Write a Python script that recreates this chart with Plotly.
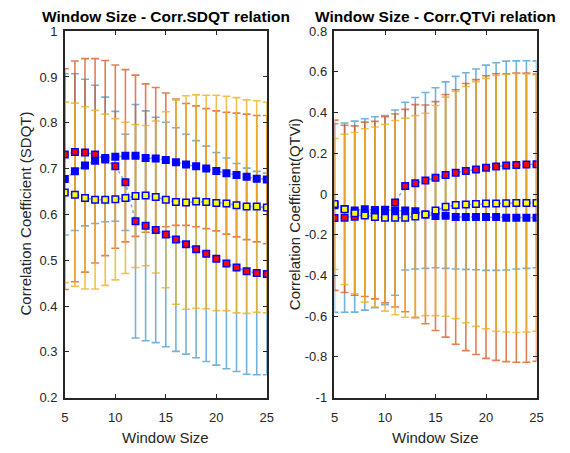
import plotly.graph_objects as go

window = list(range(5, 26))

# ---- Left panel: SDQT ----
sdqt_blue_mean = [0.677, 0.694, 0.707, 0.717, 0.723, 0.726, 0.728, 0.728, 0.723, 0.722, 0.719,
                  0.714, 0.709, 0.705, 0.700, 0.695, 0.690, 0.686, 0.682, 0.678, 0.676]
sdqt_red_mean = [0.731, 0.736, 0.735, 0.731, 0.720, 0.705, 0.670, 0.585, 0.575, 0.566, 0.556,
                 0.545, 0.535, 0.524, 0.514, 0.503, 0.493, 0.484, 0.476, 0.472, 0.470]
sdqt_yellow_mean = [0.648, 0.643, 0.636, 0.632, 0.632, 0.633, 0.636, 0.640, 0.641, 0.638, 0.632,
                    0.627, 0.626, 0.628, 0.627, 0.625, 0.624, 0.620, 0.617, 0.617, 0.615]
# half-widths of error bars
sdqt_red_err = [0.176, 0.171, 0.160, 0.151, 0.136, 0.120, 0.105, 0.255, 0.251, 0.246, 0.245,
                0.244, 0.240, 0.237, 0.235, 0.232, 0.230, 0.227, 0.225, 0.222, 0.220]
sdqt_blue_err = [0.241, 0.241, 0.233, 0.223, 0.213, 0.200, 0.188, 0.176, 0.162, 0.155, 0.146,
                 0.138, 0.133, 0.132, 0.131, 0.131, 0.133, 0.135, 0.137, 0.138, 0.140]
sdqt_yellow_err = [0.197, 0.200, 0.199, 0.195, 0.187, 0.176, 0.165, 0.156, 0.153, 0.166, 0.192,
                   0.223, 0.233, 0.233, 0.233, 0.235, 0.234, 0.235, 0.233, 0.231, 0.230]

# ---- Right panel: QTVi ----
qtvi_blue_mean = [-0.055, -0.073, -0.081, -0.075, -0.079, -0.077, -0.081, -0.081, -0.084, -0.100, -0.108,
                  -0.107, -0.113, -0.113, -0.113, -0.113, -0.113, -0.116, -0.116, -0.116, -0.116]
qtvi_red_mean = [-0.118, -0.116, -0.111, -0.100, -0.089, -0.079, -0.042, 0.039, 0.053, 0.067, 0.080,
                 0.093, 0.105, 0.113, 0.121, 0.129, 0.135, 0.140, 0.143, 0.145, 0.146]
qtvi_yellow_mean = [-0.049, -0.075, -0.094, -0.105, -0.113, -0.116, -0.116, -0.116, -0.110, -0.100, -0.081,
                    -0.062, -0.054, -0.052, -0.049, -0.047, -0.046, -0.045, -0.044, -0.044, -0.044]
qtvi_red_err = [0.463, 0.465, 0.469, 0.470, 0.469, 0.464, 0.455, 0.412, 0.421, 0.432, 0.442,
                0.458, 0.473, 0.483, 0.493, 0.504, 0.510, 0.513, 0.511, 0.510, 0.508]
qtvi_blue_err = [0.418, 0.411, 0.416, 0.428, 0.436, 0.457, 0.474, 0.497, 0.523, 0.537, 0.562,
                 0.596, 0.625, 0.656, 0.675, 0.694, 0.704, 0.707, 0.710, 0.710, 0.705]
qtvi_yellow_err = [0.322, 0.369, 0.396, 0.426, 0.442, 0.459, 0.477, 0.489, 0.495, 0.497, 0.516,
                   0.538, 0.558, 0.580, 0.601, 0.615, 0.628, 0.633, 0.636, 0.634, 0.630]

x_ticks = [5, 10, 15, 20, 25]
left_yticks = [0.2, 0.3, 0.4, 0.5, 0.6, 0.7, 0.8, 0.9, 1.0]
left_ytext = ["0.2", "0.3", "0.4", "0.5", "0.6", "0.7", "0.8", "0.9", "1"]
right_yticks = [-1, -0.8, -0.6, -0.4, -0.2, 0, 0.2, 0.4, 0.6, 0.8]
right_ytext = ["-1", "-0.8", "-0.6", "-0.4", "-0.2", "0", "0.2", "0.4", "0.6", "0.8"]

C_BLUE_ERR = "rgba(0,114,189,0.55)"
C_RED_ERR = "rgba(217,83,25,0.75)"
C_YEL_ERR = "rgba(237,177,32,0.8)"
EDGE = "#0000FF"
LINK = "rgba(90,150,230,0.8)"

fig = go.Figure()

def add_panel(xa, ya, blue_m, red_m, yel_m, red_e, blue_e, yel_e):
    # error bars: light blue around red markers, orange-red around blue markers, yellow around yellow markers
    for m, e, c in [(red_m, red_e, C_BLUE_ERR), (blue_m, blue_e, C_RED_ERR), (yel_m, yel_e, C_YEL_ERR)]:
        fig.add_trace(go.Scatter(
            x=window, y=m, mode="markers", xaxis=xa, yaxis=ya, showlegend=False,
            marker=dict(size=1, color="rgba(0,0,0,0)"),
            error_y=dict(type="data", array=e, visible=True, color=c, thickness=1.6, width=4),
            hoverinfo="skip"))
    for m, fc in [(red_m, "#FF0000"), (blue_m, "#0000FF"), (yel_m, "#FFFF00")]:
        fig.add_trace(go.Scatter(
            x=window, y=m, mode="lines+markers", xaxis=xa, yaxis=ya, showlegend=False,
            line=dict(color=LINK, width=1.5, dash="dot"),
            marker=dict(symbol="square", size=6.5, color=fc, line=dict(color=EDGE, width=1.5))))

add_panel("x", "y", sdqt_blue_mean, sdqt_red_mean, sdqt_yellow_mean,
          sdqt_red_err, sdqt_blue_err, sdqt_yellow_err)
add_panel("x2", "y2", qtvi_blue_mean, qtvi_red_mean, qtvi_yellow_mean,
          qtvi_red_err, qtvi_blue_err, qtvi_yellow_err)

W, H = 570, 453
ytop = 1 - 25 / H
ybot = 1 - 404 / H

tickfont = dict(family="Liberation Sans, Arial", size=13, color="#262626")
axis_common = dict(showline=True, linecolor="#262626", linewidth=1.5, mirror="ticks",
                   ticks="inside", ticklen=4, tickcolor="#262626", tickwidth=1,
                   showgrid=False, zeroline=False, tickfont=tickfont)

fig.update_layout(
    width=W, height=H, margin=dict(l=0, r=0, t=0, b=0),
    paper_bgcolor="white", plot_bgcolor="white",
    xaxis=dict(domain=[62 / W, 268 / W], range=[5, 25], tickvals=x_ticks, anchor="y",
               ticklabelstandoff=7, **axis_common),
    yaxis=dict(domain=[ybot, ytop], range=[0.2, 1.0], tickvals=left_yticks, ticktext=left_ytext,
               anchor="x", ticklabelstandoff=3, **axis_common),
    xaxis2=dict(domain=[337 / W, 543 / W], range=[5, 25], tickvals=x_ticks, anchor="y2",
                ticklabelstandoff=7, **axis_common),
    yaxis2=dict(domain=[ybot, ytop], range=[-1, 0.8], tickvals=right_yticks, ticktext=right_ytext,
                anchor="x2", ticklabelstandoff=3, **axis_common),
)

font_lbl = dict(family="Liberation Sans, Arial", size=15, color="#262626")
font_title = dict(family="Liberation Sans, Arial", size=15.5, color="#000000")
ann = [
    dict(text="<b>Window Size - Corr.SDQT relation</b>", x=165 / W, y=1 - 10 / H, font=font_title),
    dict(text="<b>Window Size - Corr.QTVi relation</b>", x=440 / W, y=1 - 10 / H, font=font_title),
    dict(text="Window Size", x=165 / W, y=1 - 445 / H, font=font_lbl),
    dict(text="Window Size", x=440 / W, y=1 - 445 / H, font=font_lbl),
    dict(text="Correlation Coefficient (SDQT)", x=22 / W, y=1 - 214 / H, font=font_lbl, textangle=-90),
    dict(text="Correlation Coefficient(QTVi)", x=297 / W, y=1 - 214 / H, font=font_lbl, textangle=-90),
]
for a in ann:
    fig.add_annotation(xref="paper", yref="paper", showarrow=False,
                       xanchor="center", yanchor="middle", **a)

fig.write_html("out.html")
